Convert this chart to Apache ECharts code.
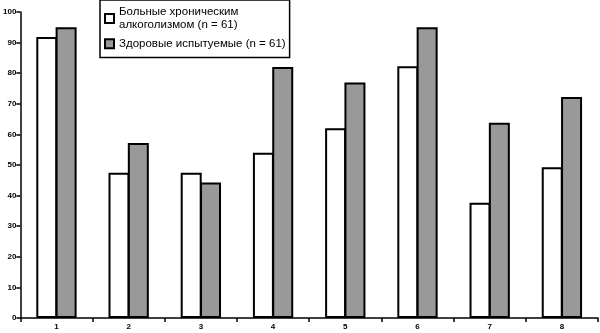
<!DOCTYPE html>
<html><head><meta charset="utf-8">
<script src="https://cdn.jsdelivr.net/npm/echarts@6/dist/echarts.min.js"></script>
<style>html,body{margin:0;padding:0;background:#fff}#c{width:600px;height:333px}</style>
</head><body><div id="c"></div>
<script>
const categories = ['1','2','3','4','5','6','7','8'];
const patients = [91.8, 47.5, 47.5, 54, 62, 82.3, 37.7, 49.3];
const healthy = [95, 57.2, 44.3, 82, 77, 95, 63.8, 72.2];
const seriesNames = ['Больные хроническим\nалкоголизмом (n = 61)', 'Здоровые испытуемые (n = 61)'];

const chart = echarts.init(document.getElementById('c'));
chart.setOption({
  animation: false,
  backgroundColor: '#fff',
  grid: {left: 17, right: 2, top: 12, bottom: 15},
  legend: {
    left: 100, top: 0, orient: 'vertical',
    borderColor: '#000', borderWidth: 1.5, padding: [5, 4, 7, 4],
    itemWidth: 9, itemHeight: 9, itemGap: 5,
    textStyle: {fontFamily: 'Liberation Sans', fontSize: 11.5, color: '#000', lineHeight: 13.5},
    data: seriesNames.map(n => ({name: n, icon: 'rect'}))
  },
  xAxis: {
    type: 'category', data: categories,
    axisLine: {lineStyle: {color: '#000', width: 1.5}},
    axisTick: {show: true, length: 4, lineStyle: {color: '#000', width: 1.5}},
    axisLabel: {fontFamily: 'Liberation Sans', fontSize: 8, fontWeight: 'bold', color: '#000', margin: 5}
  },
  yAxis: {
    type: 'value', min: 0, max: 100, interval: 10,
    axisLine: {show: true, lineStyle: {color: '#000', width: 1.5}},
    axisTick: {show: true, length: 4, lineStyle: {color: '#000', width: 1.5}},
    splitLine: {show: false},
    axisLabel: {fontFamily: 'Liberation Sans', fontSize: 8, fontWeight: 'bold', color: '#000', margin: 4}
  },
  series: [
    {name: seriesNames[0], type: 'bar', data: patients, barWidth: 21, barGap: '-8%',
     itemStyle: {color: '#fff', borderColor: '#000', borderWidth: 2}},
    {name: seriesNames[1], type: 'bar', data: healthy, barWidth: 21,
     itemStyle: {color: '#999', borderColor: '#000', borderWidth: 2}}
  ]
});
</script></body></html>
